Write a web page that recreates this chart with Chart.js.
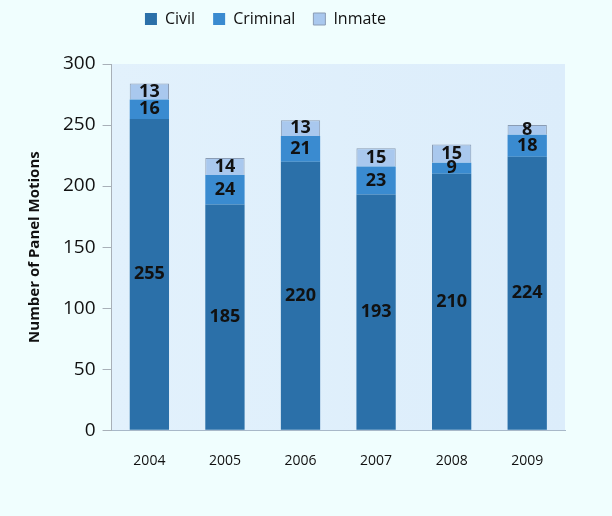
<!DOCTYPE html>
<html lang="en">
<head>
  <meta charset="UTF-8" />
  <title>Panel Motions by Year</title>
  <script src="https://cdn.jsdelivr.net/npm/chart.js"></script>
  <style>
    html, body { margin: 0; padding: 0; background: #f0fefe; }
    #wrap { width: 612px; height: 516px; }
  </style>
</head>
<body>
  <div id="wrap"><canvas id="motionsChart"></canvas></div>

  <script>
  // Chart data
  const years = ['2004', '2005', '2006', '2007', '2008', '2009'];
  const civil = [255, 185, 220, 193, 210, 224];
  const criminal = [16, 24, 21, 23, 9, 18];
  const inmate = [13, 14, 13, 15, 15, 8];
  const yTicks = [0, 50, 100, 150, 200, 250, 300];

  const fontFamily = "'Open Sans', 'DejaVu Sans', sans-serif";

  // Light blue fill behind the plot area
  const plotBackground = {
    id: 'plotBackground',
    beforeDraw(chart) {
      const { ctx, chartArea: a } = chart;
      ctx.save();
      const g = ctx.createLinearGradient(a.left, 0, a.right, 0);
      g.addColorStop(0, '#e2f1fc');
      g.addColorStop(1, '#dcedfb');
      ctx.fillStyle = g;
      ctx.fillRect(a.left, a.top, a.right - a.left, a.bottom - a.top);
      ctx.restore();
    }
  };

  // Extra room under the legend, and nudge it up/left like the original
  const legendSpacing = {
    id: 'legendSpacing',
    beforeInit(chart) {
      const origFit = chart.legend.fit;
      chart.legend.fit = function () {
        origFit.call(this);
        this.height += 16;
      };
    },
    afterLayout(chart) {
      const lg = chart.legend;
      lg.top -= 11;
      lg.bottom -= 11;
      lg.left -= 28;
      lg.right -= 28;
    }
  };

  // Value labels centred in each segment
  const segmentLabels = {
    id: 'segmentLabels',
    afterDatasetsDraw(chart) {
      const { ctx } = chart;
      ctx.save();
      ctx.font = 'bold 18px ' + fontFamily;
      ctx.fillStyle = '#111111';
      ctx.textAlign = 'center';
      ctx.textBaseline = 'middle';
      chart.data.datasets.forEach((ds, i) => {
        chart.getDatasetMeta(i).data.forEach((bar, j) => {
          ctx.fillText(ds.data[j], bar.x, (bar.y + bar.base) / 2);
        });
      });
      ctx.restore();
    }
  };

  new Chart(document.getElementById('motionsChart'), {
    type: 'bar',
    data: {
      labels: years,
      datasets: [
        { label: 'Civil', data: civil, backgroundColor: '#2b70a9', borderWidth: 0 },
        { label: 'Criminal', data: criminal, backgroundColor: '#3a8bd0', borderWidth: 0 },
        { label: 'Inmate', data: inmate, backgroundColor: '#a9c8ee', borderColor: '#8a9cb4', borderWidth: 1 }
      ]
    },
    options: {
      responsive: true,
      maintainAspectRatio: false,
      animation: false,
      datasets: {
        bar: { categoryPercentage: 1.0, barPercentage: 0.52 }
      },
      layout: { padding: { top: 4, right: 47, bottom: 25, left: 22 } },
      plugins: {
        legend: {
          position: 'top',
          labels: {
            boxWidth: 12,
            boxHeight: 12,
            padding: 18,
            color: '#111111',
            font: { family: fontFamily, size: 16 }
          }
        },
        tooltip: { enabled: false }
      },
      scales: {
        x: {
          stacked: true,
          grid: { display: false, drawTicks: false },
          border: { color: '#a8b8c8' },
          ticks: { color: '#111111', padding: 22, font: { family: fontFamily, size: 14 } }
        },
        y: {
          stacked: true,
          min: 0,
          max: 300,
          afterBuildTicks(axis) { axis.ticks = yTicks.map(v => ({ value: v })); },
          grid: { drawOnChartArea: false, drawTicks: true, tickLength: 9, color: '#a8b0b8' },
          border: { color: '#a8b0b8' },
          ticks: { color: '#111111', padding: 7, font: { family: fontFamily, size: 19 } },
          title: {
            display: true,
            text: 'Number of Panel Motions',
            color: '#111111',
            padding: { bottom: 12 },
            font: { family: fontFamily, size: 15, weight: 'bold' }
          }
        }
      }
    },
    plugins: [plotBackground, legendSpacing, segmentLabels]
  });
  </script>
</body>
</html>
